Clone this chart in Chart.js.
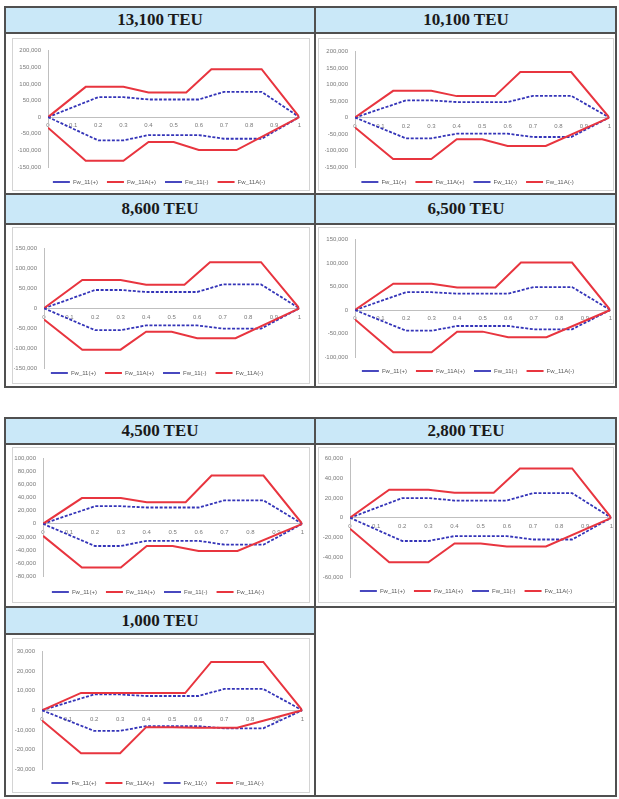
<!DOCTYPE html>
<html>
<head>
<meta charset="utf-8">
<script src="https://cdn.jsdelivr.net/npm/chart.js@4.4.1/dist/chart.umd.min.js"></script>
<style>
body { margin: 0; background: #fff; width: 619px; height: 799px; position: relative; overflow: hidden; }
.ln { position: absolute; background: #505050; }
.head { position: absolute; background: #cae8f8; font-family: 'Liberation Serif', serif; font-weight: bold;
        font-size: 17px; color: #1a1a1a; text-align: center; box-sizing: border-box; }
.frame { position: absolute; border: 1px solid #d4d4d4; box-sizing: border-box; }
canvas { position: absolute; }
</style>
</head>
<body>
<script>
// ---- data ----
const titles = ['13,100 TEU', '10,100 TEU', '8,600 TEU', '6,500 TEU', '4,500 TEU', '2,800 TEU', '1,000 TEU'];
const seriesNames = ['Fw_11(+)', 'Fw_11A(+)', 'Fw_11(-)', 'Fw_11A(-)'];

// break points along the hull (x) for each kind of curve
const xBlue = [0, 0.2, 0.3, 0.4, 0.6, 0.7, 0.85, 1];
const xRedUp = [0, 0.15, 0.3, 0.4, 0.55, 0.65, 0.85, 1];
const xRedLow = [0, 0.15, 0.3, 0.4, 0.5, 0.6, 0.75, 1];

// one row per ship
const fw11Plus = [
    [0, 60000, 60000, 53000, 53000, 76000, 76000, 0],
    [0, 52000, 52000, 47000, 47000, 66000, 66000, 0],
    [0, 46000, 46000, 41000, 41000, 60000, 60000, 0],
    [0, 38000, 38000, 35000, 35000, 49000, 49000, 0],
    [0, 27000, 27000, 25000, 25000, 36000, 36000, 0],
    [0, 20000, 20000, 17500, 17500, 25000, 25000, 0],
    [0, 8100, 8100, 7300, 7300, 10900, 10900, 0]
];
const fw11APlus = [
    [0, 91000, 91000, 74000, 74000, 144000, 144000, 0],
    [0, 81000, 81000, 65000, 65000, 138000, 138000, 0],
    [0, 71000, 71000, 59000, 59000, 116000, 116000, 0],
    [0, 56000, 56000, 48000, 48000, 101000, 101000, 0],
    [0, 39500, 39500, 33000, 33000, 74000, 74000, 0],
    [0, 28500, 28500, 25500, 25500, 50000, 50000, 0],
    [0, 8900, 8900, 8800, 8800, 24700, 24700, 0]
];
const fw11Minus = [
    [0, -70000, -70000, -54000, -54000, -65000, -65000, 0],
    [0, -63000, -63000, -49000, -49000, -59000, -59000, 0],
    [0, -55000, -55000, -43000, -43000, -51000, -51000, 0],
    [0, -44000, -44000, -34000, -34000, -41000, -41000, 0],
    [0, -34000, -34000, -26000, -26000, -32000, -32000, 0],
    [0, -23500, -23500, -18500, -18500, -22000, -22000, 0],
    [0, -10500, -10500, -8100, -8100, -9200, -9200, 0]
];
const fw11AMinus = [
    [-32000, -131000, -131000, -75000, -75000, -99000, -99000, 0],
    [-30000, -126000, -126000, -66000, -66000, -86000, -86000, 0],
    [-28000, -104000, -104000, -59000, -59000, -75000, -75000, 0],
    [-20000, -90000, -90000, -46000, -46000, -58000, -58000, 0],
    [-18500, -67000, -67000, -34000, -34000, -41500, -41500, 0],
    [-11000, -45000, -45000, -26000, -26000, -29000, -29000, 0],
    [-5200, -21900, -21900, -8600, -8600, -8900, -8900, 0]
];

const yMax = [200000, 200000, 150000, 150000, 100000, 60000, 30000];
const yMin = [-150000, -150000, -150000, -100000, -80000, -60000, -30000];
const yStep = [50000, 50000, 50000, 50000, 20000, 20000, 10000];

// ---- page layout (pixels) ----
const headCells = [[5, 7, 315, 33], [315, 7, 617, 33], [5, 194, 315, 224], [315, 194, 617, 224],
                   [5, 418, 315, 444], [315, 418, 617, 444], [5, 607, 315, 634]];
const frames = [[12, 38, 310, 191], [318, 38, 614, 191], [12, 227, 310, 384], [318, 227, 614, 384],
                [12, 447, 310, 603], [318, 447, 614, 603], [12, 638, 310, 793]];
// plot area: left, top, right, bottom
const plotBoxes = [[48, 46, 300, 168], [355, 47, 610, 168], [44, 244, 300, 369], [355, 235, 611, 358],
                   [43, 454, 303, 577], [350, 454, 612, 578], [42, 647, 303, 770]];
const legendY = [182, 182, 373, 371, 592, 591, 783];

function addDiv(cls, x1, y1, x2, y2, text) {
    const d = document.createElement('div');
    d.className = cls;
    d.style.left = x1 + 'px';
    d.style.top = y1 + 'px';
    d.style.width = (x2 - x1) + 'px';
    d.style.height = (y2 - y1) + 'px';
    if (text) {
        d.textContent = text;
        d.style.lineHeight = (y2 - y1) + 'px';
    }
    document.body.appendChild(d);
    return d;
}

headCells.forEach((c, i) => addDiv('head', c[0], c[1], c[2], c[3], titles[i]));
frames.forEach(f => addDiv('frame', f[0], f[1], f[2], f[3]));

// table rules
[7, 33, 194, 224, 387, 418, 444, 607, 796].forEach(y => addDiv('ln', 5, y - 1, 617, y + 1));
addDiv('ln', 5, 633, 315, 635);
[5, 315, 616].forEach(x => {
    addDiv('ln', x - 1, 6, x + 1, 388);
    addDiv('ln', x - 1, 417, x + 1, 797);
});

const blue = '#3434b8';
const red = '#e8353f';
const tickFont = { family: 'Liberation Sans', size: 6 };

titles.forEach((t, k) => {
    const [L, T, R, B] = plotBoxes[k];
    const canvas = document.createElement('canvas');
    const cx = L - 32, cy = T - 6;
    canvas.width = R + 6 - cx;
    canvas.height = B + 24 - cy;
    canvas.style.left = cx + 'px';
    canvas.style.top = cy + 'px';
    document.body.appendChild(canvas);

    const dy = legendY[k] - (B + 11);
    const series = [
        [xBlue, fw11Plus[k], blue, true],
        [xRedUp, fw11APlus[k], red, false],
        [xBlue, fw11Minus[k], blue, true],
        [xRedLow, fw11AMinus[k], red, false]
    ];

    new Chart(canvas.getContext('2d'), {
        type: 'line',
        data: {
            datasets: series.map((s, i) => ({
                label: seriesNames[i],
                data: s[0].map((x, j) => ({ x: x, y: s[1][j] })),
                borderColor: s[2],
                backgroundColor: s[2],
                borderWidth: s[3] ? 1.8 : 2,
                borderDash: s[3] ? [3, 1.6] : [],
                pointRadius: 0,
                tension: 0,
                fill: false,
                order: 4 - i // later series on top, like the spreadsheet
            }))
        },
        options: {
            responsive: false,
            animation: false,
            devicePixelRatio: 1,
            layout: { padding: { left: 2, top: 6, right: 6, bottom: 0 } },
            plugins: {
                tooltip: { enabled: false },
                legend: {
                    position: 'bottom',
                    labels: {
                        usePointStyle: true,
                        pointStyle: 'line',
                        pointStyleWidth: 17,
                        padding: 9,
                        font: tickFont,
                        color: '#595959',
                        sort: (a, b) => a.datasetIndex - b.datasetIndex
                    }
                }
            },
            scales: {
                x: {
                    type: 'linear',
                    min: 0,
                    max: 1,
                    position: { y: 0 },
                    ticks: {
                        stepSize: 0.1, font: tickFont, color: '#7a7a7a', padding: 5, maxRotation: 0,
                        callback: v => Math.round(v * 10) / 10
                    },
                    grid: { display: false, drawTicks: false },
                    border: { color: '#bfbfbf' }
                },
                y: {
                    min: yMin[k],
                    max: yMax[k],
                    ticks: { stepSize: yStep[k], font: tickFont, color: '#7a7a7a', padding: 7 },
                    grid: { display: false, drawTicks: false },
                    border: { color: '#bfbfbf' },
                    afterFit: scale => { scale.width = 30; }
                }
            }
        },
        plugins: [{
            id: 'legendShift',
            afterLayout(chart) {
                chart.legend.top += dy;
                chart.legend.bottom += dy;
            }
        }]
    });
});
</script>
</body>
</html>
